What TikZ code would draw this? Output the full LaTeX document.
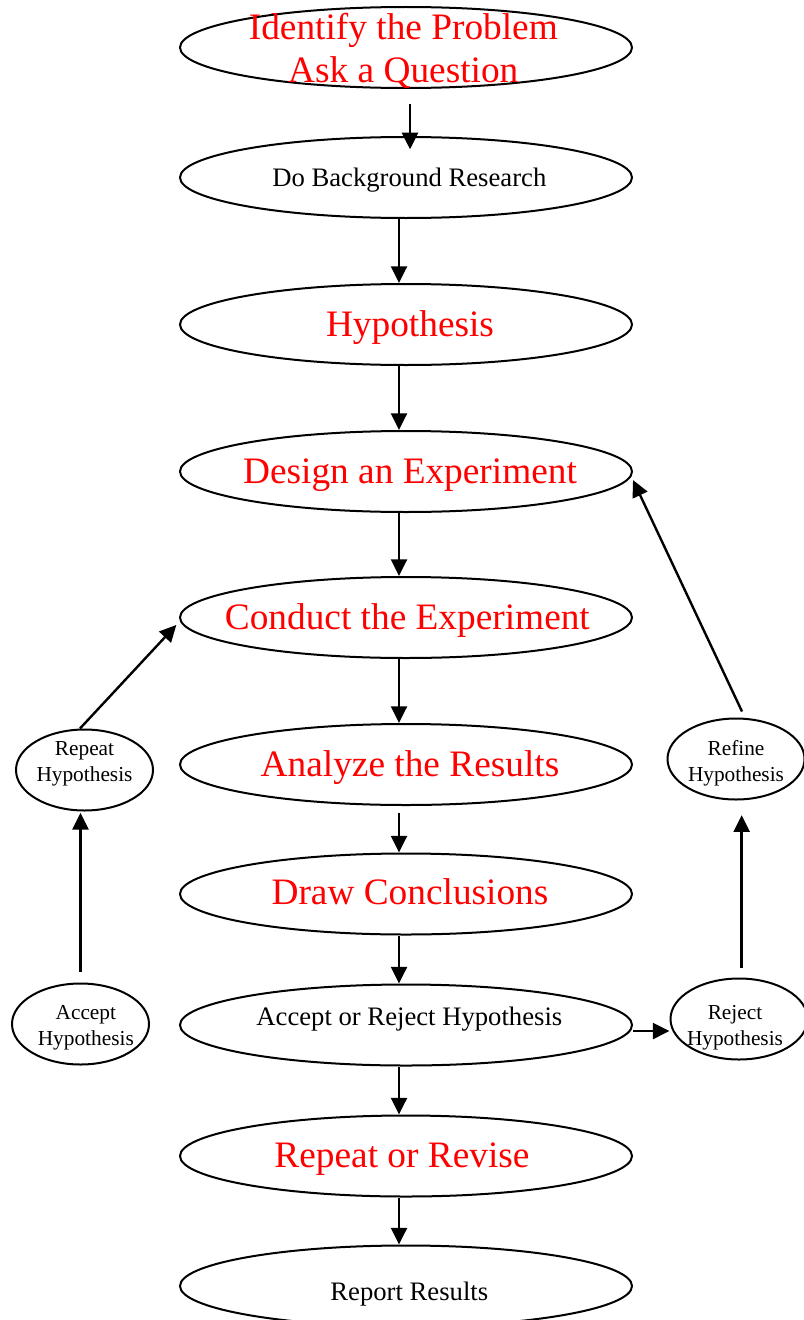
\documentclass[tikz,border=0pt]{standalone}
\usepackage{fontspec}
\setmainfont{Liberation Serif}
\usetikzlibrary{arrows.meta,shapes.geometric}
\tikzset{
  stage/.style={ellipse, draw, line width=1.5pt, minimum width=#1,
    minimum height=60.75pt, inner sep=0pt},
  stage/.default={339pt},
  flowarr/.style={-{Triangle[length=12.5pt,width=12pt]}, line width=1.8pt},
}
\begin{document}
\begin{tikzpicture}[x=0.75pt, y=-0.75pt,
  bigtxt/.style={text=red, font=\fontsize{28}{32}\selectfont, align=center, xshift=3pt, yshift=-2.5pt},
  plaintxt/.style={font=\fontsize{20}{24}\selectfont, xshift=2.5pt, yshift=-2pt},
  sidetxt/.style={font=\fontsize{16}{19.5}\selectfont, align=center},
]
  \useasboundingbox (0,0) rectangle (803,1320);
  \coordinate (spine) at (399,0);
  % main column
  \node[stage] (ident) at (406,47.5) {};
  \node[bigtxt, xshift=-5pt] at (ident) {Identify the Problem\\Ask a Question};
  \node[stage] (bg) at (406,177.5) {};
  \node[plaintxt] at (bg) {Do Background Research};
  \node[stage] (hyp) at (406,324.5) {};
  \node[bigtxt] at (hyp) {Hypothesis};
  \node[stage] (design) at (406,471.5) {};
  \node[bigtxt] at (design) {Design an Experiment};
  \node[stage] (conduct) at (406,617.5) {};
  \node[bigtxt, xshift=-2pt] at (conduct) {Conduct the Experiment};
  \node[stage] (analyze) at (406,764.5) {};
  \node[bigtxt] at (analyze) {Analyze the Results};
  \node[stage] (concl) at (406,894) {};
  \node[bigtxt, yshift=4.5pt] at (concl) {Draw Conclusions};
  \node[stage] (accrej) at (406,1025) {};
  \node[plaintxt, anchor=base, yshift=2pt] at (accrej) {Accept or Reject Hypothesis};
  \node[stage] (revise) at (406,1156) {};
  \node[bigtxt, xshift=-6pt] at (revise) {Repeat or Revise};
  \node[stage] (report) at (406,1286) {};
  \node[plaintxt, yshift=-4pt] at (report) {Report Results};
  % side loops
  \node[stage=102.75pt] (rep) at (84.5,770) {};
  \node[sidetxt, yshift=5pt] at (rep) {Repeat\\Hypothesis};
  \node[stage=102.75pt] (acc) at (80.5,1024) {};
  \node[sidetxt, xshift=4pt, yshift=-3pt] at (acc) {Accept\\Hypothesis};
  \node[stage=102.75pt] (ref) at (736,759) {};
  \node[sidetxt, yshift=-3pt] at (ref) {Refine\\Hypothesis};
  \node[stage=102.75pt] (rej) at (739,1019) {};
  \node[sidetxt, xshift=-3pt, yshift=-6.5pt] at (rej) {Reject\\Hypothesis};
  % arrows down the middle
  \draw[flowarr, shorten <=11pt, shorten >=-10pt] ([xshift=3pt]ident.south) -- ([xshift=3pt]bg.north);
  \draw[flowarr] (bg.south -| spine) -- (hyp.north -| spine);
  \draw[flowarr] (hyp.south -| spine) -- (design.north -| spine);
  \draw[flowarr] (design.south -| spine) -- (conduct.north -| spine);
  \draw[flowarr] (conduct.south -| spine) -- (analyze.north -| spine);
  \draw[flowarr, shorten <=5pt] (analyze.south -| spine) -- (concl.north -| spine);
  \draw[flowarr] (concl.south -| spine) -- (accrej.north -| spine);
  \draw[flowarr] (accrej.south -| spine) -- (revise.north -| spine);
  \draw[flowarr] (revise.south -| spine) -- (report.north -| spine);
  % loop arrows
  \draw[flowarr, shorten <=8pt, shorten >=1pt] (acc.north) -- (acc.north |- rep.south);
  \draw[flowarr] ([xshift=-3.4pt]rep.north) -- ([xshift=-2pt,yshift=-5.6pt]conduct.west);
  \draw[flowarr] ([yshift=-4.5pt]accrej.east) -- ([yshift=-4.5pt]accrej.east -| rej.west);
  \draw[flowarr, shorten <=7.5pt, shorten >=11pt] ([xshift=2pt]rej.north) -- ([xshift=2pt]rej.north |- ref.south);
  \draw[flowarr] ([xshift=4.5pt,yshift=4.5pt]ref.north) -- ([yshift=-6.4pt]design.east);
\end{tikzpicture}
\end{document}
